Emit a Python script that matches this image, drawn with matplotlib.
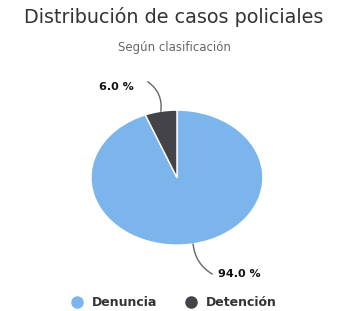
import numpy as np
import matplotlib.pyplot as plt
from matplotlib.lines import Line2D

categories = ["Denuncia", "Detención"]
shares = [94.0, 6.0]
colors = ["#7cb5ec", "#434348"]

title = "Distribución de casos policiales"
subtitle = "Según clasificación"


def main():
    fig = plt.figure(figsize=(3.48, 3.11), dpi=100)
    fig.patch.set_facecolor("white")

    # pie axes, stretched like the original (ellipse)
    ax = fig.add_axes([0.2615, 0.212, 0.494, 0.434])
    wedges, _ = ax.pie(
        shares,
        colors=colors,
        startangle=90,
        counterclock=False,
        radius=1.0,
        wedgeprops=dict(edgecolor="white", linewidth=1.0),
    )
    ax.set_aspect("auto")
    ax.set_xlim(-1, 1)
    ax.set_ylim(-1, 1)
    ax.axis("off")

    # data labels with connectors
    offsets = {
        "Denuncia": ((0.73, -1.43), (0.41, -1.43), -0.25),
        "Detención": ((-0.70, 1.34), (-0.34, 1.42), -0.3),
    }
    for w, name, val in zip(wedges, categories, shares):
        mid = np.deg2rad((w.theta1 + w.theta2) / 2.0)
        px, py = np.cos(mid), np.sin(mid)
        (tx, ty), (lx, ly), rad = offsets[name]
        ax.text(tx, ty, f"{val:.1f} %", ha="center", va="center",
                fontsize=8, fontweight="bold", color="#111111", clip_on=False)
        ax.annotate("", xy=(px, py), xytext=(lx, ly),
                    arrowprops=dict(arrowstyle="-", color="#666666", lw=1.0,
                                    shrinkA=0, shrinkB=0,
                                    connectionstyle=f"arc3,rad={rad}"),
                    annotation_clip=False)

    fig.text(0.5, 1 - 17 / 311, title, ha="center", va="center",
             fontsize=13.8, color="#333333")
    fig.text(0.5, 1 - 47 / 311, subtitle, ha="center", va="center",
             fontsize=8.5, color="#666666")

    handles = [Line2D([0], [0], marker="o", linestyle="", markersize=8,
                      markerfacecolor=c, markeredgecolor=c) for c in colors]
    fig.legend(handles, categories, loc="center", ncol=2,
               bbox_to_anchor=(0.5, 1 - 303 / 311), frameon=False,
               prop=dict(size=9, weight="bold"), labelcolor="#333333",
               handletextpad=0.7, columnspacing=2.2, handlelength=1.0)

    fig.savefig("out.png", dpi=100, facecolor="white")


if __name__ == "__main__":
    main()
